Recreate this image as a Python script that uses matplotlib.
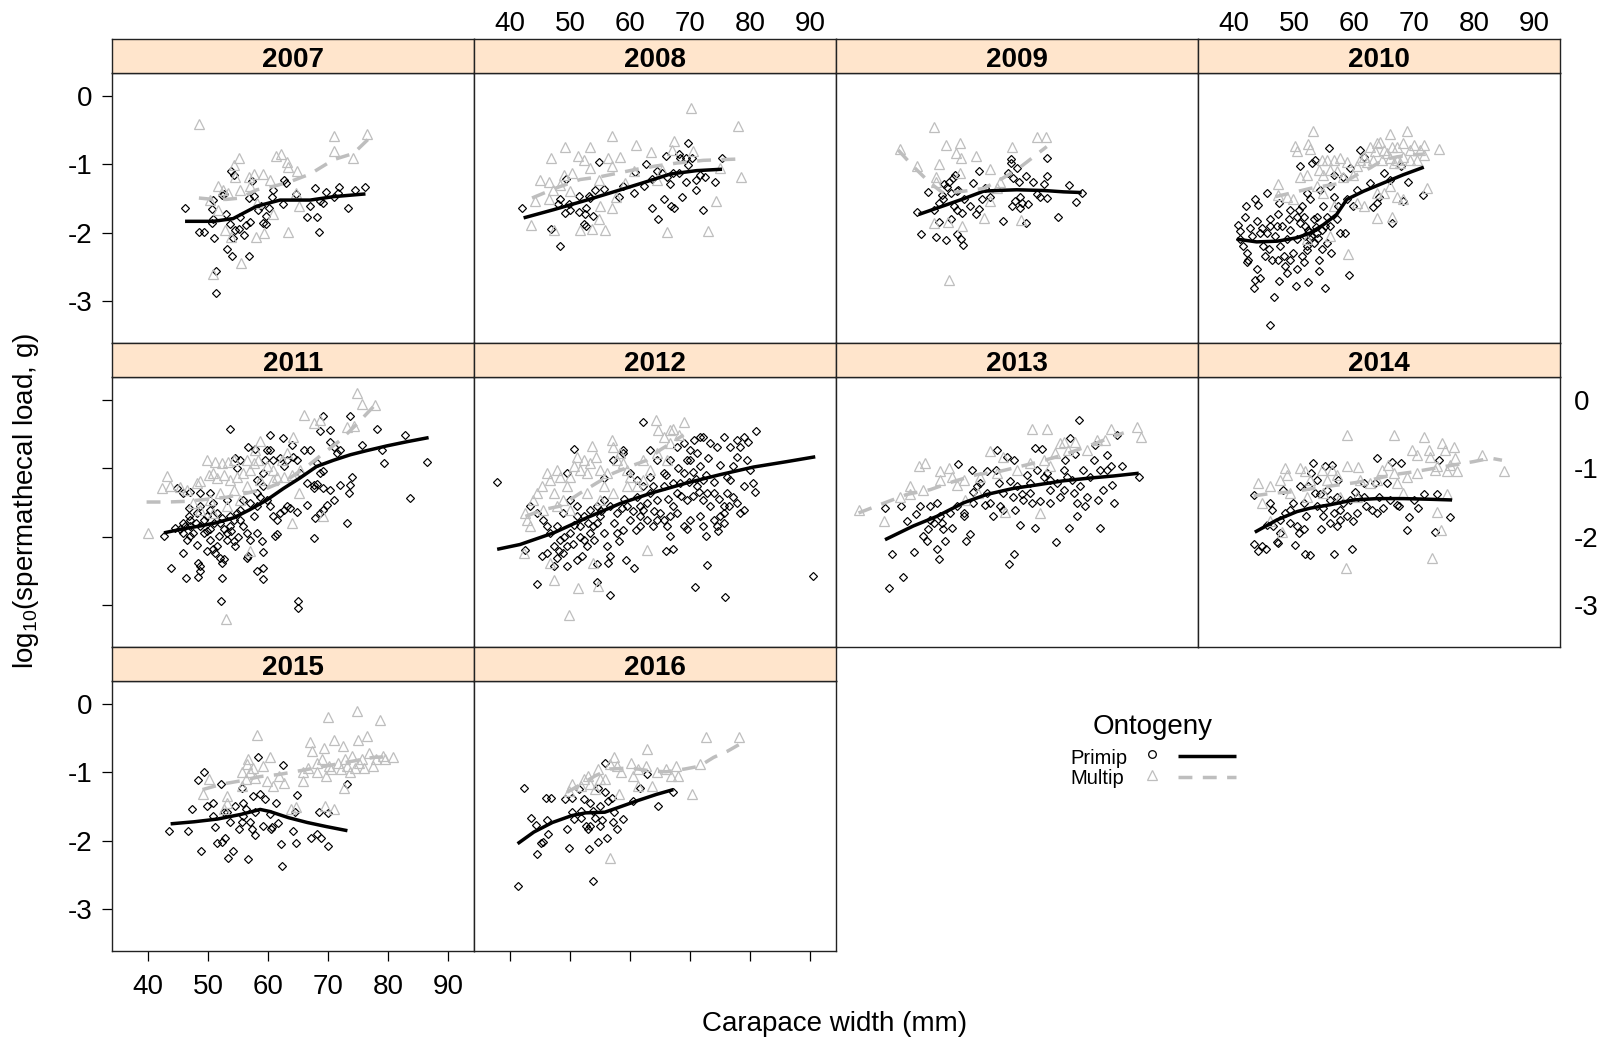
import matplotlib
matplotlib.use("Agg")
import matplotlib.pyplot as plt

plt.rcParams['font.family'] = ['Liberation Sans', 'DejaVu Sans']
plt.rcParams['mathtext.fontset'] = 'custom'
plt.rcParams['mathtext.rm'] = 'Liberation Sans'
plt.rcParams['mathtext.it'] = 'Liberation Sans:italic'

# ---------------- data (carapace width mm, log10 spermathecal load g) ----------------
years = ["2007", "2008", "2009", "2010", "2011", "2012", "2013", "2014", "2015", "2016"]
x_ticks = [40, 50, 60, 70, 80, 90]
y_ticks = [0, -1, -2, -3]

primip_2007 = [(46.2,-1.64),(48.5,-1.98),(49.4,-1.99),(51.0,-2.08),(50.6,-1.65),(50.8,-1.52),(51.4,-2.56),(51.4,-2.88),
    (53.1,-2.23),(54.0,-2.34),(56.9,-2.33),(52.3,-1.45),(52.7,-1.43),(53.0,-1.73),(53.6,-1.87),(53.8,-1.10),(54.3,-1.16),
    (54.5,-1.95),(54.2,-2.07),(55.1,-1.94),(56.0,-2.03),(56.3,-1.89),(57.0,-1.84),(56.9,-1.49),(57.7,-1.46),(57.4,-1.24),
    (59.1,-1.86),(59.6,-1.87),(59.6,-1.75),(58.9,-1.61),(60.9,-1.38),(60.7,-1.47),(62.5,-1.57),(62.7,-1.22),(63.0,-1.27),
    (64.6,-1.43),(66.5,-1.77),(66.9,-1.61),(67.8,-1.34),(68.1,-1.77),(68.5,-1.98),(68.7,-1.54),(69.6,-1.40),(69.2,-1.56),
    (70.9,-1.47),(71.6,-1.42),(71.8,-1.33),(73.3,-1.63),(74.4,-1.37),(76.2,-1.33),(50.7,-1.85),(55.4,-1.76),(58.4,-1.66),
    (60.1,-1.64),(50.9,-1.80)]
multip_2007 = [(48.5,-0.41),(55.1,-0.91),(54.3,-1.01),(54.5,-1.18),(51.6,-1.31),(52.5,-1.37),(53.4,-1.42),(55.3,-1.38),
    (56.9,-1.18),(57.7,-1.14),(59.1,-1.14),(60.4,-1.23),(61.3,-0.88),(62.2,-0.85),(63.1,-0.96),(63.4,-1.04),(64.8,-1.09),
    (64.6,-1.42),(65.1,-1.60),(70.9,-0.59),(70.9,-0.81),(74.2,-0.91),(76.5,-0.56),(63.3,-1.98),(58.0,-2.06),(59.4,-2.00),
    (55.5,-2.44),(50.9,-2.60),(53.8,-2.06),(52.9,-1.95),(51.6,-1.66),(50.4,-1.52),(60.9,-1.72),(58.1,-1.56),(57.0,-1.32)]
smooth_primip_2007 = [(46.2,-1.83),(50.9,-1.83),(54.2,-1.79),(58.1,-1.61),(62.0,-1.52),(67.0,-1.52),(70.9,-1.47),(76.2,-1.43)]
smooth_multip_2007 = [(48.5,-1.49),(50.9,-1.51),(53.1,-1.51),(55.4,-1.49),(58.1,-1.37),(60.9,-1.32),(63.7,-1.25),
    (67.0,-1.14),(70.9,-0.93),(74.2,-0.84),(76.8,-0.62)]

primip_2008 = [(42.1,-1.63),(46.8,-1.94),(48.4,-2.19),(48.3,-1.50),(48.1,-1.58),(49.1,-1.71),(49.4,-1.21),(49.8,-1.57),
    (50.0,-1.67),(51.5,-1.46),(51.5,-1.70),(52.5,-1.73),(52.6,-1.64),(52.3,-1.87),(52.6,-1.90),(53.9,-1.75),(53.1,-1.46),
    (53.4,-1.49),(54.1,-1.38),(54.9,-0.96),(55.7,-1.36),(58.1,-1.47),(58.9,-1.32),(60.7,-1.42),(60.9,-1.11),(62.7,-0.99),
    (62.4,-1.32),(63.6,-1.21),(63.7,-1.64),(64.6,-1.79),(65.6,-1.50),(66.0,-0.88),(66.6,-1.28),(66.8,-1.61),(67.3,-1.64),
    (67.2,-1.13),(68.2,-0.85),(68.3,-0.91),(69.3,-0.90),(69.6,-0.68),(69.7,-1.01),(70.3,-0.90),(69.3,-1.25),(68.6,-1.47),
    (70.9,-1.37),(71.0,-1.23),(71.6,-1.16),(72.2,-1.67),(72.5,-1.19),(74.1,-1.26),(75.3,-0.91),(65.3,-1.13),(64.5,-1.10),
    (66.1,-1.18),(68.1,-1.13)]
multip_2008 = [(43.5,-1.89),(44.2,-1.54),(46.5,-1.51),(46.5,-1.25),(46.9,-0.90),(47.2,-1.37),(49.2,-0.75),(49.0,-1.16),
    (50.3,-1.13),(51.3,-0.87),(52.4,-0.93),(53.4,-0.75),(53.4,-1.05),(54.8,-1.22),(56.3,-0.90),(57.0,-0.59),(58.4,-0.89),
    (57.0,-1.02),(57.0,-1.63),(55.9,-1.96),(54.8,-1.80),(53.7,-1.94),(51.7,-1.96),(47.3,-1.95),(55.0,-1.60),(57.6,-1.47),
    (59.2,-1.27),(61.0,-0.72),(60.6,-1.10),(63.5,-0.82),(64.5,-1.22),(65.3,-1.08),(66.1,-1.99),(67.3,-0.66),(67.0,-0.79),
    (70.1,-0.18),(70.4,-0.81),(72.9,-1.97),(74.3,-1.54),(75.0,-1.05),(78.0,-0.44),(78.4,-1.18),(45.0,-1.22),(48.4,-1.30),
    (50.0,-1.39)]
smooth_primip_2008 = [(42.3,-1.78),(47.3,-1.66),(52.8,-1.52),(58.4,-1.37),(62.8,-1.25),(66.7,-1.14),(71.1,-1.09),(75.3,-1.07)]
smooth_multip_2008 = [(43.7,-1.49),(47.8,-1.34),(51.7,-1.22),(55.0,-1.18),(57.8,-1.13),(61.1,-1.07),(64.5,-1.02),
    (67.8,-0.98),(72.2,-0.94),(78.3,-0.92)]

primip_2009 = [(47.6,-1.69),(48.2,-2.02),(49.4,-1.40),(50.6,-2.06),(52.4,-2.10),(51.2,-1.84),(51.1,-1.56),(51.6,-1.44),
    (52.0,-1.29),(52.5,-1.33),(52.9,-1.25),(53.1,-1.42),(53.5,-1.20),(53.9,-1.15),(54.1,-1.39),(54.4,-1.37),(53.6,-1.61),
    (54.1,-1.66),(55.0,-1.71),(54.9,-2.09),(55.1,-2.17),(54.1,-2.02),(53.1,-1.80),(56.4,-1.61),(56.9,-1.27),(57.3,-1.73),
    (57.9,-1.09),(57.9,-1.65),(58.3,-1.51),(58.9,-1.34),(59.7,-1.47),(61.9,-1.83),(62.7,-1.13),(63.1,-0.92),(63.2,-0.98),
    (63.5,-1.20),(63.4,-1.61),(63.8,-1.54),(64.4,-1.25),(64.1,-1.05),(64.6,-1.47),(64.7,-1.64),(65.0,-1.56),(65.6,-1.86),
    (65.6,-1.17),(66.0,-1.57),(66.8,-1.25),(67.5,-1.43),(68.0,-1.47),(68.6,-1.28),(69.2,-0.91),(69.2,-1.17),(69.2,-1.49),
    (71.0,-1.76),(72.8,-1.30),(74.0,-1.55),(74.9,-1.41),(50.3,-1.66),(51.9,-1.51),(55.3,-1.51)]
multip_2009 = [(44.7,-0.78),(47.6,-1.03),(50.4,-0.46),(52.3,-0.72),(54.6,-0.68),(54.0,-0.84),(54.8,-0.90),(57.3,-0.88),
    (51.2,-0.99),(54.7,-1.12),(50.7,-1.18),(50.7,-1.25),(59.6,-1.07),(61.4,-1.25),(63.3,-0.75),(67.5,-0.60),(69.0,-0.60),
    (58.7,-1.78),(64.8,-1.81),(59.7,-1.54),(52.8,-2.69),(50.3,-1.85),(52.6,-1.84),(55.0,-1.90),(60.8,-1.34)]
smooth_primip_2009 = [(47.8,-1.73),(51.4,-1.62),(55.3,-1.50),(58.6,-1.39),(60.8,-1.38),(64.1,-1.37),(68.6,-1.38),
    (71.9,-1.40),(74.9,-1.41)]
smooth_multip_2009 = [(44.4,-0.79),(46.9,-1.03),(49.7,-1.27),(51.9,-1.42),(55.3,-1.39),(58.6,-1.35),(61.4,-1.22),
    (64.1,-1.08),(66.3,-0.93),(69.1,-0.74)]

primip_2010 = [(40.7,-1.89),(41.1,-1.97),(42.1,-1.61),(41.9,-1.76),(41.6,-2.19),(42.2,-2.43),(42.4,-2.39),(43.5,-1.51),
    (44.1,-1.59),(45.5,-1.42),(43.9,-1.83),(44.4,-2.00),(43.8,-2.53),(43.5,-2.68),(43.4,-2.81),(44.4,-2.65),(45.5,-2.00),
    (46.0,-1.80),(45.9,-2.24),(46.3,-2.39),(46.0,-1.90),(46.7,-2.93),(46.0,-3.34),(47.6,-1.56),(47.4,-1.73),(47.7,-2.19),
    (47.6,-2.70),(48.3,-2.34),(48.5,-2.48),(48.8,-2.58),(49.1,-1.80),(49.4,-1.95),(50.3,-2.77),(50.5,-2.53),(51.0,-1.03),
    (51.3,-1.61),(51.6,-1.76),(51.9,-1.90),(51.9,-2.05),(52.1,-2.19),(51.3,-2.34),(51.6,-2.43),(52.4,-2.72),(52.7,-1.51),
    (53.0,-0.98),(53.5,-0.93),(53.8,-2.00),(54.1,-2.39),(54.2,-2.55),(54.6,-2.24),(54.9,-1.61),(55.1,-2.81),(55.5,-2.14),
    (55.8,-0.76),(56.0,-1.90),(56.2,-2.29),(56.6,-1.15),(57.1,-1.80),(57.7,-2.00),(58.2,-1.18),(58.5,-2.00),(59.2,-2.62),
    (59.4,-1.05),(59.9,-1.61),(61.0,-0.79),(61.6,-0.89),(63.1,-1.62),(63.8,-1.56),(64.2,-1.47),(66.3,-1.85),(67.8,-1.03),
    (68.2,-1.54),(69.0,-1.25),(71.4,-1.44),(56.6,-1.47),(53.8,-1.76),(52.7,-2.09),(50.5,-2.09),(49.9,-2.29),(49.4,-2.39),
    (53.3,-1.80),(55.5,-1.76),(54.6,-1.95),(52.1,-1.42),(50.8,-1.66),(48.0,-1.90),(46.9,-2.05),(44.9,-2.19),(43.0,-2.05),
    (41.1,-2.09),(45.2,-2.34),(47.4,-2.39),(48.8,-2.09),(51.0,-1.85),(52.4,-1.95),(55.2,-1.90),(57.4,-1.61),(58.8,-1.51),
    (60.5,-1.37),(62.7,-1.27),(64.9,-1.13),(66.0,-1.22),(56.0,-1.32),(54.4,-1.37),(49.4,-1.66),(50.5,-1.76),(47.2,-1.90),
    (44.7,-1.93),(42.7,-1.93),(42.2,-2.29),(52.9,-2.05),(53.4,-2.15),(52.5,-1.98),(53.6,-1.92),(52.2,-2.25),(54.0,-2.08)]
multip_2010 = [(53.1,-0.51),(50.2,-0.73),(52.3,-0.70),(52.7,-0.78),(50.5,-0.81),(47.4,-1.28),(47.4,-1.44),(51.0,-1.18),
    (52.1,-1.15),(54.1,-1.08),(54.6,-0.93),(55.5,-0.93),(56.6,-0.93),(57.7,-0.91),(58.8,-0.96),(54.9,-1.15),(56.0,-1.08),
    (57.1,-1.10),(58.2,-1.18),(59.9,-1.15),(60.5,-1.03),(61.0,-0.93),(62.7,-0.74),(63.8,-0.69),(64.3,-0.67),(64.9,-0.79),
    (66.0,-0.55),(66.3,-0.74),(67.1,-0.74),(68.2,-0.69),(68.8,-0.51),(69.3,-0.79),(69.9,-0.72),(71.0,-0.79),(71.6,-0.72),
    (74.1,-0.78),(61.6,-0.89),(62.1,-0.96),(63.2,-0.93),(64.6,-0.93),(66.0,-0.91),(67.1,-0.93),(68.2,-0.89),(69.3,-0.93),
    (70.4,-0.93),(71.6,-0.86),(63.5,-0.81),(65.5,-0.84),(66.6,-0.98),(67.7,-0.98),(63.8,-1.42),(64.9,-1.42),(66.0,-1.32),
    (67.1,-1.47),(68.2,-1.51),(72.1,-1.35),(63.8,-1.78),(66.3,-1.77),(59.0,-2.30),(60.5,-1.56),(61.6,-1.61),(56.6,-1.61),
    (54.9,-1.42),(53.8,-1.32),(56.0,-2.05),(52.1,-2.09),(49.9,-1.51),(48.8,-1.47)]
smooth_primip_2010 = [(40.5,-2.09),(43.8,-2.13),(47.2,-2.12),(50.5,-2.07),(52.7,-2.00),(54.9,-1.88),(57.1,-1.73),
    (58.8,-1.51),(61.6,-1.39),(64.9,-1.27),(68.2,-1.15),(71.6,-1.04)]
smooth_multip_2010 = [(46.9,-1.47),(49.4,-1.42),(52.7,-1.35),(56.0,-1.30),(58.2,-1.27),(60.5,-1.15),(62.7,-1.05),
    (64.9,-0.93),(67.1,-0.89),(69.3,-0.86),(71.6,-0.85)]

primip_2011 = [(42.7,-1.98),(43.9,-2.45),(45.9,-2.23),(46.4,-2.60),(48.3,-2.58),(48.4,-2.38),(48.7,-2.42),(48.7,-2.50),
    (52.2,-2.93),(52.4,-2.60),(52.3,-2.38),(52.0,-2.30),(52.6,-2.32),(50.9,-2.18),(51.2,-2.23),(51.5,-2.13),(49.8,-2.21),
    (48.2,-2.11),(47.0,-1.99),(46.5,-2.04),(46.2,-1.84),(45.9,-1.79),(46.8,-1.70),(47.0,-1.75),(48.2,-1.65),(48.7,-1.55),
    (49.3,-1.75),(49.8,-1.70),(50.4,-1.60),(50.9,-1.50),(51.5,-1.65),(52.0,-1.79),(52.6,-1.89),(53.1,-1.94),(53.7,-1.84),
    (54.3,-1.75),(54.8,-1.65),(55.4,-1.75),(55.9,-1.84),(56.5,-1.94),(57.0,-2.04),(58.1,-1.94),(57.6,-1.70),(58.1,-1.55),
    (58.7,-1.41),(59.2,-1.26),(59.8,-1.46),(60.4,-1.55),(60.9,-1.70),(61.5,-1.75),(62.0,-1.65),(62.6,-1.60),(63.1,-1.55),
    (63.7,-1.58),(64.8,-1.63),(66.5,-1.53),(67.6,-2.01),(67.8,-1.72),(68.7,-1.65),(69.2,-1.60),(69.8,-1.53),(70.3,-1.31),
    (70.9,-1.46),(72.0,-1.24),(73.1,-1.79),(73.4,-1.36),(73.7,-1.24),(73.9,-1.12),(72.0,-0.73),(70.3,-0.61),(70.9,-0.68),
    (71.4,-0.78),(68.2,-0.92),(68.7,-1.07),(69.2,-1.04),(66.5,-1.21),(67.6,-1.24),(68.1,-1.22),(65.3,-1.07),(64.8,-0.88),
    (64.2,-0.83),(64.0,-0.66),(63.1,-0.88),(62.6,-0.97),(62.0,-0.85),(60.9,-0.88),(60.4,-0.73),(59.8,-0.73),(59.5,-0.88),
    (59.2,-1.07),(58.1,-1.17),(57.9,-0.71),(56.7,-0.68),(55.4,-0.88),(54.8,-1.00),(54.5,-0.85),(53.6,-0.42),(60.4,-0.51),
    (62.5,-0.55),(65.9,-0.73),(67.0,-0.73),(69.2,-0.24),(70.3,-0.44),(68.7,-0.46),(73.7,-0.24),(75.7,-0.66),(78.1,-0.42),
    (78.9,-0.73),(79.2,-0.92),(82.7,-0.51),(83.6,-1.43),(86.5,-0.90),(67.6,-1.28),(69.2,-1.29),(61.5,-1.96),(61.2,-1.99),
    (59.0,-2.06),(59.2,-2.22),(58.1,-2.50),(59.1,-2.45),(59.1,-2.62),(56.7,-2.28),(56.5,-2.30),(64.9,-2.94),(64.9,-3.03),
    (54.5,-2.13),(54.3,-2.06),(53.1,-2.04),(50.4,-1.89),(49.3,-1.94),(47.6,-1.94),(47.0,-1.84),(45.9,-1.94),(45.4,-1.89),
    (44.5,-1.87),(46.8,-1.58),(48.7,-1.84),(50.4,-2.04),(51.8,-1.99),(53.7,-1.70),(55.4,-1.60),(57.0,-1.50),(58.1,-1.36),
    (55.9,-1.46),(53.1,-1.46),(50.4,-1.36),(48.7,-1.36),(45.9,-1.36),(44.8,-1.29),(47.0,-1.34),(51.0,-1.80),(52.3,-1.72),
    (53.9,-1.92),(55.0,-2.00),(49.9,-1.92),(48.0,-1.80)]
multip_2011 = [(40.1,-1.94),(42.3,-1.28),(43.2,-1.11),(43.7,-1.26),(45.4,-1.27),(46.5,-1.31),(48.2,-1.21),(48.7,-1.19),
    (49.8,-0.87),(51.2,-0.90),(52.3,-0.92),(53.4,-0.90),(54.3,-0.88),(50.1,-1.09),(50.9,-1.07),(51.5,-1.14),(52.6,-1.09),
    (53.7,-1.17),(54.8,-1.12),(55.9,-1.07),(57.0,-1.02),(56.5,-0.88),(57.6,-0.92),(58.4,-0.88),(58.6,-0.60),(57.9,-0.73),
    (59.8,-0.97),(60.9,-1.02),(61.5,-1.12),(62.3,-0.88),(63.1,-0.78),(64.2,-0.54),(64.0,-1.09),(65.1,-1.36),(64.0,-1.79),
    (65.9,-0.22),(67.6,-0.34),(68.7,-0.30),(69.2,-1.70),(73.1,-0.39),(74.3,-0.38),(74.8,0.10),(75.6,-0.06),(77.8,-0.07),
    (57.0,-2.21),(53.0,-3.20),(55.4,-1.46),(53.1,-1.55),(50.9,-1.65),(48.7,-1.60),(47.6,-1.50),(50.4,-1.46),(52.0,-1.36),
    (54.3,-1.31),(56.5,-1.26),(58.7,-1.17),(60.9,-1.17),(62.6,-1.12),(65.3,-1.02)]
smooth_primip_2011 = [(42.7,-1.94),(45.9,-1.88),(48.7,-1.84),(51.5,-1.79),(54.3,-1.72),(57.0,-1.60),(59.8,-1.46),
    (62.6,-1.29),(65.3,-1.14),(68.1,-0.97),(70.9,-0.88),(73.7,-0.80),(76.4,-0.74),(79.8,-0.67),(83.1,-0.61),(86.7,-0.55)]
smooth_multip_2011 = [(39.8,-1.49),(43.2,-1.49),(46.5,-1.48),(49.8,-1.45),(53.1,-1.42),(56.5,-1.36),(59.8,-1.29),
    (63.1,-1.17),(66.5,-0.97),(69.2,-0.78),(72.0,-0.59),(74.8,-0.35),(77.5,-0.10)]

primip_2012 = [(37.9,-1.20),(42.6,-2.19),(44.6,-2.68),(45.3,-2.28),(46.2,-2.23),(47.3,-2.13),(47.8,-2.30),(48.4,-2.04),
    (48.9,-2.23),(49.5,-2.13),(50.0,-1.94),(50.6,-1.82),(51.1,-1.70),(51.7,-1.84),(52.3,-2.04),(52.0,-2.28),(52.8,-2.13),
    (53.4,-1.94),(53.9,-1.84),(54.5,-1.79),(55.0,-1.70),(55.6,-1.94),(56.1,-2.13),(56.7,-2.28),(56.3,-2.38),(56.7,-2.84),
    (54.5,-2.39),(54.5,-2.66),(58.1,-2.06),(58.9,-1.90),(59.3,-2.33),(60.7,-2.45),(61.0,-1.90),(61.7,-1.70),(62.2,-1.60),
    (62.8,-1.50),(63.3,-1.36),(63.9,-1.26),(64.5,-1.46),(65.0,-1.65),(65.6,-1.75),(66.1,-1.84),(66.7,-1.70),(67.2,-1.55),
    (67.8,-1.36),(68.3,-1.21),(68.9,-1.07),(69.5,-0.88),(70.0,-0.73),(70.6,-0.59),(71.1,-0.78),(71.7,-0.97),(72.2,-1.17),
    (72.8,-1.36),(73.3,-1.55),(73.9,-1.75),(74.4,-1.84),(75.0,-1.70),(75.6,-1.55),(76.1,-1.36),(76.7,-1.17),(77.2,-0.97),
    (77.8,-0.83),(78.3,-0.68),(78.9,-0.54),(79.4,-0.88),(80.0,-1.02),(80.5,-1.21),(80.8,-1.34),(81.0,-0.46),(78.9,-1.60),
    (78.3,-1.65),(75.6,-1.79),(74.7,-1.92),(72.7,-1.98),(72.8,-2.41),(70.8,-2.73),(75.8,-2.87),(90.5,-2.57),(66.0,-2.20),
    (67.1,-2.18),(62.2,-0.32),(63.3,-0.73),(64.5,-0.88),(65.6,-1.07),(66.7,-0.88),(67.8,-0.68),(68.9,-0.63),(70.0,-0.88),
    (71.7,-0.54),(72.2,-0.54),(73.3,-0.63),(74.4,-0.68),(75.6,-0.54),(76.7,-0.68),(77.8,-0.59),(58.9,-0.73),(57.2,-0.88),
    (55.6,-1.14),(58.9,-0.78),(60.0,-1.07),(61.1,-1.17),(62.2,-1.26),(63.3,-1.12),(65.6,-1.26),(67.2,-1.21),(69.5,-1.46),
    (71.1,-1.26),(72.2,-1.46),(73.9,-1.36),(76.1,-1.12),(77.2,-1.41),(78.9,-1.26),(71.7,-1.70),(70.0,-1.75),(68.9,-1.84),
    (67.8,-1.65),(64.5,-1.75),(63.9,-1.84),(61.7,-1.84),(60.0,-1.75),(57.8,-1.65),(56.7,-1.55),(55.6,-1.46),(54.5,-1.55),
    (53.4,-1.60),(52.3,-1.70),(51.1,-1.55),(50.0,-1.46),(48.9,-1.65),(47.8,-1.84),(46.7,-1.94),(45.6,-1.75),(44.5,-1.65),
    (43.4,-1.55),(61.1,-1.41),(59.5,-1.55),(57.8,-1.94),(66.7,-1.99),(69.5,-1.89),(72.2,-1.84),(75.6,-1.65),(77.8,-1.50),
    (51.1,-2.33),(49.5,-2.42),(47.3,-2.42),(46.2,-1.84),(50.6,-0.71),(49.5,-1.07),(70.5,-1.05),(71.0,-1.15),(71.4,-1.35),
    (70.4,-1.40),(72.6,-1.10),(69.8,-1.20),(68.4,-1.40),(74.0,-1.20),(66.3,-1.45),(64.0,-1.62),(62.8,-1.75),(61.6,-1.55),
    (60.5,-1.62),(59.0,-1.45),(57.4,-1.80),(55.2,-1.62),(53.0,-1.80),(51.7,-2.00),(50.5,-2.10),(49.0,-2.00),(48.2,-2.20),
    (54.0,-2.05),(58.6,-1.58),(66.0,-1.10),(68.0,-1.00),(73.0,-0.85),(75.0,-0.95),(79.6,-0.62),(74.8,-1.45),(76.5,-1.55)]
multip_2012 = [(42.6,-1.65),(42.8,-1.75),(43.9,-1.46),(44.5,-1.36),(45.3,-1.26),(46.2,-1.07),(46.7,-1.17),(47.3,-1.36),
    (47.8,-1.02),(48.4,-1.12),(48.9,-1.46),(49.5,-1.26),(50.0,-1.12),(50.6,-0.97),(51.1,-0.83),(51.7,-1.02),(52.3,-0.88),
    (52.8,-1.07),(53.4,-0.92),(53.6,-0.67),(54.4,-0.83),(55.0,-1.02),(55.6,-1.26),(56.1,-1.07),(57.0,-0.59),(57.2,-0.68),
    (57.8,-0.88),(58.4,-0.78),(58.9,-0.92),(59.5,-1.02),(60.0,-1.12),(61.1,-1.26),(62.2,-1.17),(63.3,-1.02),(64.3,-0.30),
    (64.7,-0.44),(65.6,-0.54),(66.7,-0.44),(67.2,-0.42),(68.9,-0.32),(68.1,-0.51),(66.1,-0.88),(62.8,-2.19),(47.3,-2.63),
    (51.3,-2.75),(54.6,-2.72),(49.8,-3.14),(46.7,-2.38),(42.3,-2.23),(53.9,-2.38),(43.4,-1.84),(45.6,-1.60),(47.8,-1.55),
    (50.0,-1.60),(52.8,-1.36),(55.0,-1.46),(57.2,-1.36),(59.5,-1.26),(62.2,-0.88),(64.5,-0.78),(66.7,-0.63)]
smooth_primip_2012 = [(37.9,-2.18),(41.7,-2.11),(47.3,-1.94),(52.8,-1.72),(58.4,-1.51),(63.9,-1.35),(69.5,-1.21),
    (75.0,-1.09),(80.5,-0.98),(86.1,-0.90),(90.8,-0.83)]
smooth_multip_2012 = [(42.6,-1.70),(45.6,-1.60),(48.4,-1.55),(51.7,-1.36),(54.5,-1.21),(57.2,-1.07),(60.0,-0.97),
    (62.8,-0.88),(65.0,-0.73),(67.2,-0.61),(68.9,-0.51)]

primip_2013 = [(42.2,-1.58),(42.8,-2.75),(43.4,-2.25),(45.2,-2.59),(44.8,-1.55),(45.9,-1.77),(47.0,-2.22),(47.4,-1.67),
    (48.0,-1.55),(48.6,-1.99),(49.2,-2.06),(49.4,-1.89),(49.7,-1.55),(50.3,-1.79),(50.8,-1.50),(50.9,-2.17),(51.1,-2.32),
    (51.6,-1.79),(51.9,-1.89),(52.2,-2.06),(53.3,-1.87),(54.3,-0.94),(54.1,-1.55),(55.7,-2.06),(55.3,-1.65),(56.3,-1.95),
    (56.6,-1.02),(56.9,-1.34),(57.5,-1.26),(58.0,-1.21),(58.9,-1.53),(59.1,-1.04),(59.7,-1.50),(60.2,-1.70),(60.7,-1.02),
    (60.8,-0.73),(61.1,-1.21),(61.4,-1.55),(61.9,-1.60),(62.5,-0.83),(63.0,-1.19),(63.6,-0.88),(63.8,-1.60),(63.5,-1.42),
    (62.9,-2.39),(63.6,-2.25),(64.1,-1.26),(64.7,-1.83),(65.0,-1.38),(65.8,-1.09),(66.3,-1.36),(66.6,-1.50),(67.1,-0.70),
    (67.2,-1.87),(67.5,-1.02),(68.0,-1.48),(68.3,-0.71),(68.6,-1.12),(69.1,-1.07),(69.6,-1.50),(69.7,-1.31),(70.6,-2.08),
    (70.8,-1.21),(71.3,-1.41),(71.9,-1.02),(72.2,-0.88),(72.4,-1.12),(72.8,-1.87),(73.0,-0.56),(73.3,-1.17),(73.6,-1.36),
    (73.8,-0.79),(74.1,-1.50),(74.4,-0.30),(74.1,-1.70),(74.7,-1.26),(75.2,-1.02),(75.5,-1.55),(75.8,-1.41),(76.3,-1.12),
    (76.9,-0.88),(77.2,-0.66),(77.7,-1.46),(77.9,-1.87),(78.0,-1.02),(78.5,-1.31),(79.1,-0.80),(79.1,-1.02),(79.7,-0.97),
    (79.9,-1.24),(80.2,-1.50),(80.8,-0.51),(81.6,-0.96),(84.4,-1.13),(71.9,-1.31),(69.7,-1.17),(66.3,-1.21),(65.2,-1.46),
    (61.9,-1.36),(59.1,-1.36),(56.9,-1.50),(55.3,-1.70),(53.0,-1.65),(51.4,-1.70),(49.7,-1.75)]
multip_2013 = [(37.8,-1.61),(42.1,-1.76),(44.7,-1.41),(46.3,-1.26),(46.4,-1.38),(47.8,-0.97),(48.9,-0.92),(51.4,-1.04),
    (52.8,-1.00),(53.3,-1.12),(54.1,-1.24),(55.5,-1.46),(57.7,-1.36),(59.7,-0.75),(61.9,-0.83),(62.2,-1.63),(64.1,-1.02),
    (66.6,-0.42),(69.1,-0.42),(69.7,-0.97),(71.3,-0.63),(71.9,-0.61),(72.7,-0.73),(73.8,-0.61),(75.8,-0.73),(77.4,-0.59),
    (78.8,-0.59),(79.7,-0.42),(84.1,-0.39),(84.8,-0.54),(68.0,-1.65),(60.8,-1.07),(58.0,-1.12),(55.3,-1.17),(51.4,-1.17),
    (48.6,-1.31),(66.3,-0.92),(68.6,-0.88),(70.5,-0.78)]
smooth_primip_2013 = [(42.2,-2.04),(46.9,-1.84),(50.8,-1.70),(55.3,-1.50),(59.1,-1.38),(63.6,-1.29),(67.5,-1.24),
    (71.9,-1.18),(76.3,-1.14),(80.2,-1.11),(84.4,-1.07)]
smooth_multip_2013 = [(37.8,-1.65),(41.9,-1.51),(45.8,-1.38),(49.7,-1.31),(53.6,-1.19),(57.5,-1.09),(61.4,-1.04),
    (64.7,-0.97),(68.0,-0.90),(71.9,-0.80),(75.8,-0.68),(79.7,-0.55),(81.9,-0.48)]

primip_2014 = [(43.4,-1.39),(43.4,-2.10),(44.1,-2.21),(44.7,-2.13),(45.4,-2.18),(46.0,-1.50),(46.4,-1.60),(47.2,-2.07),
    (47.4,-2.09),(47.7,-1.75),(48.2,-1.31),(48.5,-1.65),(49.4,-1.60),(49.9,-1.50),(50.2,-2.11),(50.5,-1.84),(50.8,-1.94),
    (51.0,-1.26),(51.6,-1.89),(51.9,-2.25),(52.7,-2.27),(52.0,-1.70),(52.4,-1.26),(52.8,-1.07),(53.1,-0.92),(53.5,-1.36),
    (53.8,-1.17),(54.4,-1.38),(54.5,-1.89),(54.9,-1.58),(55.2,-0.97),(55.5,-1.31),(56.0,-1.79),(56.3,-0.95),(56.6,-1.65),
    (56.7,-2.25),(57.1,-1.41),(57.4,-1.17),(57.7,-1.60),(58.2,-1.50),(58.8,-1.70),(59.7,-2.18),(59.9,-1.77),(60.2,-1.34),
    (60.7,-1.41),(61.6,-1.21),(62.0,-1.55),(63.0,-1.60),(63.5,-1.21),(63.8,-0.85),(64.1,-1.41),(64.8,-1.57),(65.5,-1.21),
    (66.3,-0.90),(67.1,-1.53),(67.4,-1.55),(67.8,-0.92),(68.8,-1.90),(69.2,-1.71),(69.9,-1.46),(70.6,-1.57),(71.7,-1.37),
    (73.5,-1.93),(74.2,-0.87),(75.9,-1.71),(73.8,-1.38),(66.0,-1.46),(63.8,-1.65),(60.5,-1.65),(57.7,-1.75),(56.0,-1.46),
    (53.8,-1.55),(51.6,-1.50),(49.4,-1.79),(47.7,-1.94),(46.6,-1.84),(45.5,-1.82),(54.9,-1.70),(57.1,-1.84),(61.6,-1.41),
    (59.4,-1.46)]
multip_2014 = [(44.1,-1.21),(46.0,-1.26),(44.7,-1.50),(48.0,-1.93),(46.0,-1.77),(47.7,-1.17),(48.5,-1.00),(48.8,-1.09),
    (51.0,-1.00),(51.9,-1.04),(52.7,-1.17),(54.6,-1.02),(55.5,-1.17),(56.3,-1.02),(57.1,-1.09),(58.8,-0.51),(58.8,-0.97),
    (60.7,-0.98),(61.0,-1.17),(63.8,-1.17),(64.6,-1.02),(65.7,-0.95),(66.7,-0.51),(66.6,-1.07),(68.8,-1.12),(69.6,-0.73),
    (70.4,-0.80),(71.6,-0.54),(72.4,-0.73),(72.7,-0.83),(73.5,-1.02),(74.6,-0.63),(75.2,-0.73),(76.6,-0.68),(76.8,-0.85),
    (76.0,-0.95),(77.1,-1.04),(73.8,-0.97),(75.4,-1.04),(81.3,-0.80),(84.9,-1.04),(58.7,-2.45),(72.9,-2.30),(74.4,-1.90),
    (73.8,-1.63),(75.4,-1.37),(68.2,-1.36),(60.5,-1.41),(57.7,-1.41),(54.9,-1.36),(52.1,-1.41),(49.4,-1.36),(62.7,-1.21),
    (67.1,-1.21),(70.4,-1.07)]
smooth_primip_2014 = [(43.5,-1.93),(47.2,-1.75),(50.5,-1.63),(52.7,-1.58),(56.0,-1.53),(59.9,-1.46),(63.8,-1.44),
    (68.2,-1.44),(72.7,-1.45),(76.3,-1.46)]
smooth_multip_2014 = [(43.3,-1.40),(46.6,-1.36),(50.0,-1.34),(53.3,-1.29),(56.6,-1.25),(60.0,-1.21),(63.2,-1.16),
    (66.6,-1.09),(69.9,-1.05),(73.2,-1.00),(76.6,-0.95),(79.9,-0.90),(82.7,-0.85),(84.6,-0.88)]

primip_2015 = [(43.6,-1.86),(46.7,-1.86),(47.3,-1.54),(48.9,-2.14),(48.3,-1.11),(49.4,-0.99),(49.9,-1.49),(50.8,-1.44),
    (51.1,-1.80),(51.5,-2.03),(52.1,-1.17),(52.3,-2.02),(52.6,-1.58),(52.8,-1.95),(53.4,-2.25),(53.6,-1.73),(54.1,-2.14),
    (54.5,-1.49),(55.2,-1.83),(55.6,-1.22),(55.8,-1.44),(55.9,-1.63),(56.3,-1.54),(56.7,-2.26),(57.0,-1.73),(57.3,-1.83),
    (57.5,-1.34),(57.8,-1.91),(58.4,-0.78),(58.7,-1.32),(59.1,-1.78),(59.5,-1.39),(60.3,-1.61),(60.5,-1.83),(60.7,-1.80),
    (61.4,-1.44),(61.7,-1.74),(62.1,-2.04),(62.4,-2.37),(62.5,-0.89),(64.2,-1.85),(64.4,-1.58),(64.6,-2.03),(64.8,-1.33),
    (67.1,-1.96),(68.1,-1.90),(68.5,-1.57),(68.8,-1.96),(70.0,-2.07),(70.0,-1.59),(73.1,-1.17),(53.2,-1.58),(55.6,-1.73),
    (57.9,-1.58),(50.8,-1.63)]
multip_2015 = [(49.1,-1.32),(50.2,-1.10),(52.6,-1.54),(53.2,-1.34),(55.6,-1.20),(56.5,-0.88),(56.7,-0.81),(57.0,-1.00),
    (57.5,-0.93),(57.9,-1.08),(58.1,-0.45),(59.1,-0.91),(59.9,-1.12),(60.4,-0.77),(60.9,-1.20),(61.8,-1.05),(62.6,-1.15),
    (63.8,-1.54),(64.6,-1.50),(65.8,-1.12),(66.6,-0.93),(66.9,-0.56),(67.3,-0.69),(68.1,-1.00),(68.9,-0.81),(69.3,-0.64),
    (69.7,-1.05),(69.9,-0.19),(70.1,-0.91),(70.5,-0.95),(71.0,-0.53),(71.7,-0.86),(72.1,-0.95),(72.4,-0.62),(72.8,-0.81),
    (73.2,-0.91),(73.6,-1.00),(74.0,-0.76),(74.4,-0.93),(74.8,-0.11),(75.0,-0.53),(75.2,-0.86),(75.6,-0.81),(76.0,-0.93),
    (76.4,-0.47),(76.8,-0.71),(77.4,-0.91),(77.9,-0.81),(78.7,-0.23),(79.1,-0.76),(79.5,-0.81),(80.7,-0.78),(72.7,-1.22),
    (70.9,-1.54),(69.5,-1.49),(55.6,-1.00),(53.2,-1.44),(56.3,-1.10),(65.8,-1.00),(68.1,-0.86)]
smooth_primip_2015 = [(43.8,-1.75),(47.7,-1.72),(51.6,-1.68),(55.6,-1.61),(58.7,-1.54),(60.3,-1.57),(63.4,-1.66),
    (66.5,-1.73),(69.7,-1.79),(73.2,-1.85)]
smooth_multip_2015 = [(49.1,-1.25),(52.4,-1.17),(55.6,-1.12),(58.7,-1.06),(61.8,-1.03),(65.0,-0.98),(68.1,-0.93),
    (71.3,-0.88),(74.4,-0.83),(77.5,-0.78),(80.3,-0.77)]

primip_2016 = [(41.3,-2.66),(42.4,-1.23),(43.6,-1.66),(44.4,-1.77),(44.6,-2.19),(45.2,-2.03),(45.6,-2.02),(46.0,-1.37),
    (46.2,-1.70),(46.4,-1.90),(46.8,-1.37),(49.1,-1.39),(49.5,-1.83),(49.9,-2.10),(50.3,-1.37),(50.7,-1.68),(51.5,-1.24),
    (51.9,-1.66),(52.3,-1.39),(52.6,-1.78),(53.0,-1.83),(53.2,-2.12),(53.4,-1.44),(53.8,-1.56),(53.9,-2.59),(54.2,-1.66),
    (54.6,-1.22),(55.0,-1.49),(55.4,-1.70),(55.8,-0.86),(55.9,-1.29),(56.2,-1.95),(56.4,-1.41),(57.0,-1.37),(57.2,-1.73),
    (57.4,-1.58),(57.8,-1.83),(58.9,-1.68),(60.5,-1.41),(61.7,-1.23),(62.9,-1.03),(64.7,-1.49),(67.2,-1.28),(54.6,-2.02),
    (53.4,-1.78),(51.9,-1.56),(50.3,-1.58),(55.0,-1.78)]
multip_2016 = [(49.9,-1.27),(50.4,-1.17),(52.3,-1.10),(53.0,-1.05),(53.4,-1.17),(54.6,-0.95),(55.0,-1.10),(55.8,-1.10),
    (56.6,-0.88),(57.4,-0.78),(57.8,-0.91),(58.1,-1.32),(58.5,-1.00),(60.1,-0.86),(60.5,-1.05),(61.3,-0.95),(61.3,-1.20),
    (62.9,-0.66),(62.7,-0.91),(63.6,-1.20),(64.4,-1.00),(66.0,-0.95),(66.8,-1.05),(67.6,-0.91),(68.0,-1.05),(70.3,-1.32),
    (71.7,-0.88),(72.7,-0.48),(78.2,-0.49),(56.6,-2.25),(51.9,-1.20),(54.2,-1.24)]
smooth_primip_2016 = [(41.3,-2.04),(44.0,-1.87),(47.1,-1.73),(50.3,-1.63),(52.6,-1.59),(55.8,-1.58),(58.1,-1.51),
    (61.3,-1.41),(64.4,-1.32),(67.2,-1.25)]
smooth_multip_2016 = [(49.5,-1.29),(51.9,-1.17),(54.2,-1.05),(56.6,-0.95),(58.9,-0.94),(61.3,-0.95),(63.6,-0.98),
    (66.0,-0.99),(69.1,-0.95),(71.5,-0.91),(73.9,-0.78),(76.2,-0.69),(78.2,-0.59)]

primip_points = [primip_2007, primip_2008, primip_2009, primip_2010, primip_2011,
                 primip_2012, primip_2013, primip_2014, primip_2015, primip_2016]
multip_points = [multip_2007, multip_2008, multip_2009, multip_2010, multip_2011,
                 multip_2012, multip_2013, multip_2014, multip_2015, multip_2016]
primip_smooth = [smooth_primip_2007, smooth_primip_2008, smooth_primip_2009, smooth_primip_2010, smooth_primip_2011,
                 smooth_primip_2012, smooth_primip_2013, smooth_primip_2014, smooth_primip_2015, smooth_primip_2016]
multip_smooth = [smooth_multip_2007, smooth_multip_2008, smooth_multip_2009, smooth_multip_2010, smooth_multip_2011,
                 smooth_multip_2012, smooth_multip_2013, smooth_multip_2014, smooth_multip_2015, smooth_multip_2016]

# ---------------- styling / layout ----------------
W, H = 1604, 1037
XLIM = (34.0, 94.2)
YLIM = (-3.61, 0.33)
PW, PH, SH = 362.0, 270.0, 34.0
X0, Y0 = 111.7, 39.3
STRIP = '#FFE5CC'
GREY = '#BEBEBE'
FS = 20

fig = plt.figure(figsize=(W / 100, H / 100), dpi=100)


def xy(pairs):
    return [p[0] for p in pairs], [p[1] for p in pairs]


for i, yr in enumerate(years):
    r, c = divmod(i, 4)
    left = X0 + c * PW
    strip_top = Y0 + r * (PH + SH)
    panel_top = strip_top + SH
    ax = fig.add_axes([left / W, 1 - (panel_top + PH) / H, PW / W, PH / H])
    sax = fig.add_axes([left / W, 1 - panel_top / H, PW / W, SH / H])

    # points and smoothers
    px, py = xy(primip_points[i])
    ax.plot(px, py, ls='none', marker='D', ms=4.3, mfc='none', mec='black', mew=0.85, zorder=2)
    sx, sy = xy(primip_smooth[i])
    ax.plot(sx, sy, color='black', lw=2.5, solid_capstyle='butt', zorder=3)
    mx, my = xy(multip_points[i])
    ax.plot(mx, my, ls='none', marker='^', ms=7.5, mfc='none', mec=GREY, mew=0.9, zorder=2)
    tx, ty = xy(multip_smooth[i])
    ax.plot(tx, ty, color=GREY, lw=2.5, ls=(0, (4, 3)), dash_capstyle='butt', zorder=3)

    ax.set_xlim(*XLIM)
    ax.set_ylim(*YLIM)
    ax.set_xticks(x_ticks)
    ax.set_yticks(y_ticks)
    ax.set_xticklabels([str(t) for t in x_ticks])
    ax.set_yticklabels([str(t) for t in y_ticks])
    ax.tick_params(which='both', direction='out', length=7, width=0.9, labelsize=FS, colors='black',
                   left=False, right=False, top=False, bottom=False,
                   labelleft=False, labelright=False, labeltop=False, labelbottom=False)
    if c == 0:
        ax.tick_params(axis='y', left=True, labelleft=(r != 1), pad=7)
    if r == 1 and c == 3:
        ax.tick_params(axis='y', length=0, labelright=True, pad=10)
    if r == 2:
        ax.tick_params(axis='x', bottom=True, labelbottom=(c == 0), pad=9)
    for sp in ax.spines.values():
        sp.set_linewidth(1.0)
        sp.set_color('#222222')

    sax.set_facecolor(STRIP)
    sax.set_xlim(*XLIM)
    sax.set_ylim(0, 1)
    sax.set_yticks([])
    sax.set_xticks(x_ticks)
    sax.set_xticklabels([str(t) for t in x_ticks])
    sax.tick_params(axis='x', length=0, labelsize=FS, bottom=False, labelbottom=False,
                    top=False, labeltop=(r == 0 and c in (1, 3)), pad=2)
    for sp in sax.spines.values():
        sp.set_linewidth(1.0)
        sp.set_color('#222222')
    sax.text(0.5, 0.40, yr, transform=sax.transAxes, ha='center', va='center',
             fontsize=FS, fontweight='bold')

# axis titles
fig.text(835 / W, 1 - 1024 / H, 'Carapace width (mm)', ha='center', va='center', fontsize=FS)
fig.text(26 / W, 1 - 501 / H, r'log$_{10}$(spermathecal load, g)', ha='center', va='center',
         rotation=90, fontsize=FS)

# legend (lattice key)
lax = fig.add_axes([0, 0, 1, 1])
lax.set_xlim(0, W)
lax.set_ylim(H, 0)
lax.axis('off')
lax.text(1153, 727, 'Ontogeny', ha='center', va='center', fontsize=FS)
lax.text(1070, 759, 'Primip', ha='left', va='center', fontsize=14.5)
lax.text(1070, 779, 'Multip', ha='left', va='center', fontsize=14.5)
lax.plot([1152], [754], ls='none', marker='o', ms=5.5, mfc='none', mec='black', mew=0.9)
lax.plot([1152], [775], ls='none', marker='^', ms=7.5, mfc='none', mec=GREY, mew=0.9)
lax.plot([1178, 1236], [756, 756], color='black', lw=2.5, solid_capstyle='butt')
lax.plot([1178, 1236], [777, 777], color=GREY, lw=2.5, ls=(0, (4, 3)), dash_capstyle='butt')

fig.savefig('out.png', dpi=100)
